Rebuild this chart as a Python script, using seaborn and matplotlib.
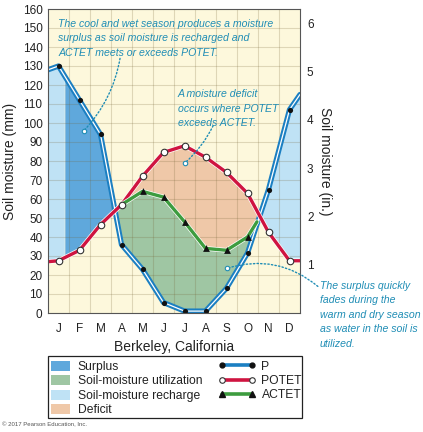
import numpy as np
import pandas as pd
import matplotlib
matplotlib.use("Agg")
import matplotlib.pyplot as plt
import matplotlib.patheffects as pe
from matplotlib.patches import Patch, Rectangle
from matplotlib.lines import Line2D
import seaborn as sns

# ---------------- data (mm) ----------------
months = ['J', 'F', 'M', 'A', 'M', 'J', 'J', 'A', 'S', 'O', 'N', 'D']
P_mm = [130, 112, 94, 36, 23, 5.5, 1, 1, 13, 31.5, 65, 107]
P_edges = [128, 115]          # values at start of Jan / end of Dec
POTET_mm = [27.5, 33, 46.5, 57, 72, 84.5, 88, 82, 74, 63, 42.5, 27.5]
POTET_edges = [27, 27.5]
ACTET_months = ['A', 'M', 'J', 'J', 'A', 'S', 'O']
ACTET_mm = [57, 64, 61, 48, 34, 33, 40]
ACTET_end = [9.95, 48]        # ACTET rejoins P in early November (month pos, mm)
surplus_start = 0.8           # surplus begins in mid January
legend_patches = ['Surplus', 'Soil-moisture utilization', 'Soil-moisture recharge', 'Deficit']
legend_lines = ['P', 'POTET', 'ACTET']

# ---------------- styles ----------------
C_SURPLUS = '#5fa8dc'
C_UTIL = '#9fc6a3'
C_RECH = '#bfe2f5'
C_DEF = '#efc8a8'
C_BG = '#fdf8dc'
C_P = '#1b7fc2'
C_POT = '#cf1440'
C_ACT = '#3d9c3f'
C_NOTE = '#1f8db5'

sns.set_theme(style='white')
plt.rcParams['font.family'] = ['Liberation Sans', 'DejaVu Sans']

fig = plt.figure(figsize=(4.23, 4.32), dpi=100)
fig.patch.set_facecolor('white')
ax = fig.add_axes([48 / 423, 1 - 313 / 432, 252 / 423, 304 / 432])
ax.set_facecolor(C_BG)

xc = np.arange(12) + 0.5
xP = np.concatenate([[0], xc, [12]])
P_all = np.concatenate([[P_edges[0]], P_mm, [P_edges[1]]])
POT_all = np.concatenate([[POTET_edges[0]], POTET_mm, [POTET_edges[1]]])
xA = np.concatenate([xc[3:10], [ACTET_end[0]]])
A_all = np.concatenate([ACTET_mm, [ACTET_end[1]]])

# ---------------- fills ----------------
xf = np.linspace(0, 12, 2401)
Pf = np.interp(xf, xP, P_all)
POTf = np.interp(xf, xP, POT_all)
ACTf = np.where(xf < xA[0], POTf, np.where(xf > xA[-1], Pf, np.interp(xf, xA, A_all)))

ax.fill_between(xf, POTf, Pf, where=(Pf >= POTf) & (xf >= surplus_start) & (xf < 6),
                color=C_SURPLUS, lw=0, zorder=1)
ax.fill_between(xf, POTf, Pf, where=(Pf >= POTf) & ((xf <= surplus_start) | (xf > 6)),
                color=C_RECH, lw=0, zorder=1)
ax.fill_between(xf, Pf, ACTf, where=(ACTf > Pf), color=C_UTIL, lw=0, zorder=1)
ax.fill_between(xf, np.maximum(ACTf, Pf), POTf, where=(POTf > np.maximum(ACTf, Pf)),
                color=C_DEF, lw=0, zorder=1)

# ---------------- lines ----------------
dfP = pd.DataFrame({'x': xP, 'y': P_all})
dfPOT = pd.DataFrame({'x': xP, 'y': POT_all})
dfA = pd.DataFrame({'x': xA, 'y': A_all})

sns.lineplot(data=dfP, x='x', y='y', ax=ax, sort=False, color=C_P, lw=3.8, zorder=4,
             path_effects=[pe.Stroke(linewidth=3.8, foreground=C_P),
                           pe.Stroke(linewidth=0.9, foreground='white')])
sns.lineplot(data=dfPOT, x='x', y='y', ax=ax, sort=False, color=C_POT, lw=2.4, zorder=5,
             path_effects=[pe.Stroke(linewidth=3.4, foreground='white'), pe.Normal()])
sns.lineplot(data=dfA, x='x', y='y', ax=ax, sort=False, color=C_ACT, lw=2.4, zorder=5,
             path_effects=[pe.Stroke(linewidth=3.4, foreground='white'), pe.Normal()])

sns.scatterplot(x=xc, y=P_mm, ax=ax, color='#111111', s=14, linewidth=0, zorder=6)
sns.scatterplot(x=xc, y=POTET_mm, ax=ax, color='white', edgecolor='#333333', s=22,
                linewidth=0.8, zorder=7)
sns.scatterplot(x=xc[4:10], y=ACTET_mm[1:], ax=ax, color='#111111', marker='^', s=24,
                linewidth=0, zorder=6)

# ---------------- axes ----------------
ax.set_xlim(0, 12)
ax.set_ylim(0, 160)
ax.set_xticks(xc)
ax.set_xticklabels(months)
ax.set_xticks(np.arange(1, 12), minor=True)
ax.set_yticks(np.arange(0, 161, 10))
ax.tick_params(axis='both', which='both', length=0)
ax.tick_params(axis='y', labelsize=8.5, pad=4, colors='#222222')
ax.tick_params(axis='x', labelsize=8.5, pad=7, colors='#222222')
ax.set_axisbelow(False)
gcol = (0.45, 0.38, 0.20)
ax.grid(which='minor', axis='x', color=gcol, alpha=0.22, lw=0.8)
ax.grid(which='major', axis='y', color=gcol, alpha=0.22, lw=0.8)
ax.grid(which='major', axis='x', visible=False)
for s in ax.spines.values():
    s.set_color('#555555')
    s.set_linewidth(0.8)
    s.set_zorder(8)
ax.set_xlabel('Berkeley, California', fontsize=10, labelpad=4, color='#222222')
ax.set_ylabel('Soil moisture (mm)', fontsize=10, labelpad=4, color='#222222')

ax2 = ax.twinx()
ax2.set_ylim(0, 160 / 25.4)
ax2.set_yticks(np.arange(1, 7))
ax2.tick_params(axis='y', length=0, labelsize=8.5, pad=5, colors='#222222')
ax2.grid(False)
for s in ax2.spines.values():
    s.set_visible(False)
ax2.set_ylabel('Soil moisture (in.)', fontsize=10, rotation=270, labelpad=13, color='#222222')

# ---------------- annotations ----------------
note_kw = dict(fontsize=7.6, style='italic', color=C_NOTE, va='top',
               ha='left', linespacing=1.55, zorder=9)
ax.text(0.48, 154.8, 'The cool and wet season produces a moisture\n'
        'surplus as soil moisture is recharged and\nACTET meets or exceeds POTET.', **note_kw)
ax.text(6.19, 117.8, 'A moisture deficit\noccurs where POTET\nexceeds ACTET.', **note_kw)
ax.text(12.95, 16.8, 'The surplus quickly\nfades during the\nwarm and dry season\n'
        'as water in the soil is\nutilized.', **note_kw)

arrow_kw = dict(arrowstyle='-', color=C_NOTE, lw=1.0, linestyle=(0, (1, 1.6)),
                shrinkA=0, shrinkB=0)
notes = [((1.71, 96), (3.43, 134), -0.15),
         ((6.52, 79), (7.86, 98.5), -0.1),
         ((8.52, 23.5), (12.85, 14), 0.27)]
for pt, start, rad in notes:
    ax.annotate('', xy=pt, xytext=start, annotation_clip=False, zorder=9,
                arrowprops=dict(connectionstyle=f'arc3,rad={rad}', **arrow_kw))
    ax.plot([pt[0]], [pt[1]], marker='o', ms=3.2, mfc='white', mec=C_NOTE, mew=0.8,
            zorder=9, clip_on=False)

# ---------------- legend ----------------
fig.patches.append(Rectangle((48 / 423, 1 - 418 / 432), 254 / 423, 62 / 432,
                             transform=fig.transFigure, fill=False, ec='#222222', lw=0.9))
ph = [Patch(facecolor=c, edgecolor='none') for c in (C_SURPLUS, C_UTIL, C_RECH, C_DEF)]
leg1 = fig.legend(ph, legend_patches, loc='upper left',
                  bbox_to_anchor=(51 / 423, 1 - 360.5 / 432), frameon=False, fontsize=8.7,
                  handlelength=1.6, handleheight=0.9, handletextpad=0.6,
                  labelspacing=0.2, borderpad=0, borderaxespad=0)
lh = [Line2D([], [], color=C_P, lw=2.6, marker='o', ms=3.5, mfc='#111111', mec='#111111'),
      Line2D([], [], color=C_POT, lw=2.6, marker='o', ms=4, mfc='white', mec='#333333',
             mew=0.8),
      Line2D([], [], color=C_ACT, lw=2.6, marker='^', ms=4.5, mfc='#111111', mec='#111111')]
leg2 = fig.legend(lh, legend_lines, loc='upper left', numpoints=2,
                  bbox_to_anchor=(218 / 423, 1 - 360.5 / 432), frameon=False, fontsize=8.7,
                  handlelength=3.1, handletextpad=0.5, labelspacing=0.2,
                  borderpad=0, borderaxespad=0)
for leg in (leg1, leg2):
    for t in leg.get_texts():
        t.set_color('#222222')

fig.text(0.004, 1 - 425 / 432, '\u00a9 2017 Pearson Education, Inc.', fontsize=4.3,
         color='#555555', va='center', ha='left')

fig.savefig('out.png', dpi=100)
